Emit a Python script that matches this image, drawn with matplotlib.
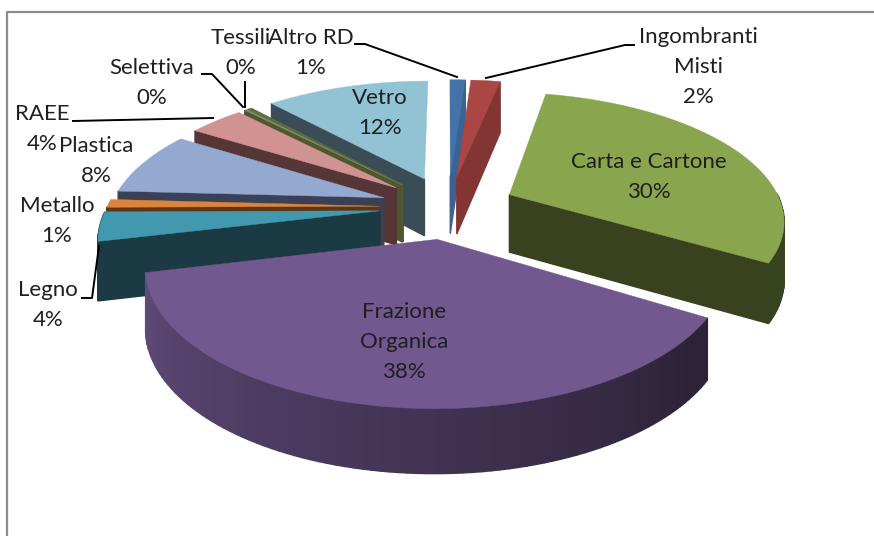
"""Exploded 3D pie of the separate-collection fractions, drawn by hand in pixel space."""

from __future__ import annotations

import matplotlib.pyplot as plt
import numpy as np
from matplotlib.colors import to_rgb

# slices run clockwise from 12 o'clock
CATEGORIES = ["Altro RD", "Ingombranti\nMisti", "Carta e Cartone", "Frazione\nOrganica", "Legno",
              "Metallo", "Plastica", "RAEE", "Selettiva", "Tessili", "Vetro"]
VALUES = [1.1, 2.1, 30.4, 37.6, 3.6, 1.0, 8.0, 3.9, 0.2, 0.3, 11.7]
TOP_COLORS = ["#4572A7", "#AA4643", "#89A54E", "#71588F", "#4198AF", "#DB843D",
              "#93A9CF", "#D19392", "#7E8F5A", "#5F6B45", "#92C3D4"]
SIDE_COLORS = ["#3A6293", "#833533", "#39411F", "#3A2D4A", "#1B3A44", "#5F3515",
               "#3A4156", "#553536", "#4E5632", "#4A4F38", "#3A4C55"]

# label centre in pixels, one entry per category
LABEL_POS = [(311, 53), (698, 67), (649, 177), (404, 342), (48, 305),
             (57, 221), (96, 161), (42, 129), (152, 83), (241, 53), (380, 113)]

LEADERS = [
    [(355, 44), (365, 44), (457, 77)],
    [(634, 45), (625, 45), (486, 78)],
    [(202, 74), (212, 74), (243, 107)],
    [(245, 82), (245, 107)],
    [(73, 121), (213, 118)],
    [(82, 298), (92, 298), (99, 246)],
]

CX, CY = 448, 207
RADIUS_X, RADIUS_Y = 273, 125
PERSPECTIVE = 0.182
EXPLODE = 0.25
FRAME = "#8C8C8C"
TEXT = "#1F1F1F"


def project(x, y, z=0.0):
    s = 1 / (1 + PERSPECTIVE * y)
    depth = 58 - 5.6 * y
    return CX + RADIUS_X * x * s, CY - RADIUS_Y * y * s + z * depth


def shade(color, a):
    # outer wall darkens from the left round to the lower right
    f = 0.4 + 0.44 * np.clip((a - 130) / 125, 0, 1)
    return tuple(c * f for c in to_rgb(color))


def draw_slice(ax, a0, a1, top, side):
    mid = (a0 + a1) / 2
    ox, oy = EXPLODE * np.sin(mid), EXPLODE * np.cos(mid)
    angles = np.linspace(a0, a1, max(int(np.degrees(a1 - a0) / 1.5), 2) + 1)
    rim_x, rim_y = ox + np.sin(angles), oy + np.cos(angles)
    narrow = np.degrees(a1 - a0) < 20

    def wall(x0, y0, x1, y1, color):
        xa, ya = project(x0, y0)
        xb, yb = project(x1, y1)
        xc, yc = project(x1, y1, 1)
        xd, yd = project(x0, y0, 1)
        ax.fill([xa, xb, xc, xd], [ya, yb, yc, yd], facecolor=color, edgecolor=color,
                lw=1.0, zorder=2)

    if np.sin(a0) < 0:
        wall(ox, oy, rim_x[0], rim_y[0], side)
    if np.sin(a1) > 0:
        wall(ox, oy, rim_x[-1], rim_y[-1], side)
    for i in range(len(angles) - 1):
        if np.cos((angles[i] + angles[i + 1]) / 2) < 0:
            a = np.degrees((angles[i] + angles[i + 1]) / 2)
            wall(rim_x[i], rim_y[i], rim_x[i + 1], rim_y[i + 1], side if narrow else shade(top, a))

    px, py = project(np.r_[ox, rim_x], np.r_[oy, rim_y])
    ax.fill(px, py, color=top, lw=0.3, zorder=2)


def main() -> None:
    plt.rcParams["font.family"] = ["Lato", "DejaVu Sans"]
    fig = plt.figure(figsize=(8.74, 5.36), dpi=100)
    ax = fig.add_axes([0, 0, 1, 1])
    ax.set_xlim(0, 874)
    ax.set_ylim(536, 0)
    ax.axis("off")

    ax.plot([7, 7, 874], [536, 12, 12], color=FRAME, lw=1.6, zorder=1)

    values = np.array(VALUES)
    edges = np.r_[0, np.cumsum(values)] / values.sum() * 2 * np.pi
    mids = (edges[:-1] + edges[1:]) / 2
    for i in np.argsort(-np.cos(mids)):
        draw_slice(ax, edges[i], edges[i + 1], TOP_COLORS[i], SIDE_COLORS[i])

    for points in LEADERS:
        xs, ys = zip(*points)
        ax.plot(xs, ys, color="black", lw=1.4, zorder=3)

    for name, value, (x, y) in zip(CATEGORIES, VALUES, LABEL_POS):
        ax.text(x, y, f"{name}\n{round(value)}%", ha="center", va="center",
                fontsize=16, color=TEXT, linespacing=1.62, zorder=4)

    fig.savefig("out.png", dpi=100)
    plt.close(fig)


if __name__ == "__main__":
    main()
